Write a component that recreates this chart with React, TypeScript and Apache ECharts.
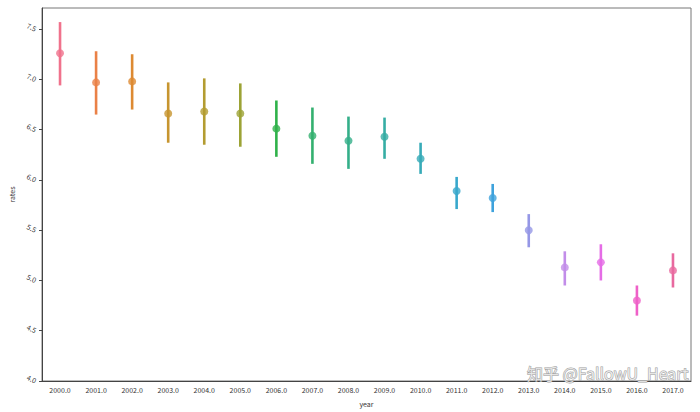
import React, { useEffect, useRef } from "react";
import * as echarts from "echarts";

const years = ["2000.0","2001.0","2002.0","2003.0","2004.0","2005.0","2006.0","2007.0","2008.0","2009.0","2010.0","2011.0","2012.0","2013.0","2014.0","2015.0","2016.0","2017.0"];
const means = [7.26, 6.97, 6.98, 6.66, 6.68, 6.66, 6.51, 6.44, 6.39, 6.43, 6.21, 5.89, 5.82, 5.50, 5.13, 5.18, 4.80, 5.10];
const lows = [6.94, 6.65, 6.70, 6.37, 6.35, 6.33, 6.23, 6.16, 6.11, 6.21, 6.06, 5.71, 5.68, 5.33, 4.95, 5.00, 4.65, 4.93];
const highs = [7.57, 7.28, 7.25, 6.97, 7.01, 6.96, 6.79, 6.72, 6.63, 6.62, 6.37, 6.03, 5.96, 5.66, 5.29, 5.36, 4.95, 5.27];
const yTicks = [4.0, 4.5, 5.0, 5.5, 6.0, 6.5, 7.0, 7.5];

const colors = ["#f0728c","#ea8147","#dd8a32","#c7952f","#b39c31","#9ca335","#2fb24a","#33b06f","#34af89","#36ada4","#37abb8","#38a8cc","#3ea2dc","#9597e6","#c28de9","#e56ce6","#ef60c8","#e8699f"];

export default function App() {
  const ref = useRef<HTMLDivElement>(null);
  useEffect(() => {
    const chart = echarts.init(ref.current!, null, { renderer: "svg" });
    const font = "'Noto Sans CJK SC', 'DejaVu Sans', sans-serif";
    chart.setOption({
      animation: false,
      backgroundColor: "#ffffff",
      grid: { left: 42, right: 9, top: 8, bottom: 27, show: true, borderColor: "#777", borderWidth: 1 },
      xAxis: {
        type: "category",
        data: years,
        name: "year",
        nameLocation: "middle",
        nameGap: 19,
        nameTextStyle: { fontSize: 7, color: "#333", fontFamily: font },
        axisLine: { lineStyle: { color: "#444", width: 1 } },
        axisTick: { alignWithLabel: true, length: 3, lineStyle: { color: "#444" } },
        axisLabel: { fontSize: 7, color: "#333", margin: 5, fontFamily: font },
        splitLine: { show: false },
      },
      yAxis: {
        type: "value",
        min: 4.0,
        max: 7.71,
        interval: 0.5,
        name: "rates",
        nameLocation: "middle",
        nameGap: 21,
        nameRotate: 90,
        nameTextStyle: { fontSize: 7, color: "#333", fontFamily: font },
        axisLine: { show: true, lineStyle: { color: "#444", width: 1 } },
        axisTick: { show: true, length: 3, customValues: yTicks, lineStyle: { color: "#444" } },
        axisLabel: {
          fontSize: 7, color: "#333", margin: 6, rotate: -25, fontFamily: font,
          customValues: yTicks,
          formatter: (v: number) => v.toFixed(1),
        },
        splitLine: { show: false },
      },
      series: [
        {
          type: "custom",
          data: years.map((_, i) => [i, lows[i], highs[i]]),
          renderItem: (params: any, api: any) => {
            const i = api.value(0);
            const p1 = api.coord([i, api.value(1)]);
            const p2 = api.coord([i, api.value(2)]);
            return {
              type: "line",
              shape: { x1: p1[0], y1: p1[1], x2: p2[0], y2: p2[1] },
              style: { stroke: colors[params.dataIndex], lineWidth: 2.6 },
            };
          },
          z: 2,
        },
        {
          type: "scatter",
          symbol: "circle",
          symbolSize: 8,
          data: means.map((m, i) => ({ value: [i, m], itemStyle: { color: colors[i] } })),
          z: 3,
        },
      ],
      graphic: [
        {
          type: "text",
          right: 11,
          top: 364,
          style: {
            text: "知乎 @FallowU_Heart",
            fontSize: 16,
            fontFamily: "'Noto Sans CJK SC', sans-serif",
            fill: "rgba(255,255,255,0.7)",
            stroke: "#a0a0a0",
            lineWidth: 1,
          },
          z: 10,
        },
      ],
    });
    return () => chart.dispose();
  }, []);
  return <div ref={ref} style={{ position: "fixed", left: 0, top: 0, width: 700, height: 412 }} />;
}
